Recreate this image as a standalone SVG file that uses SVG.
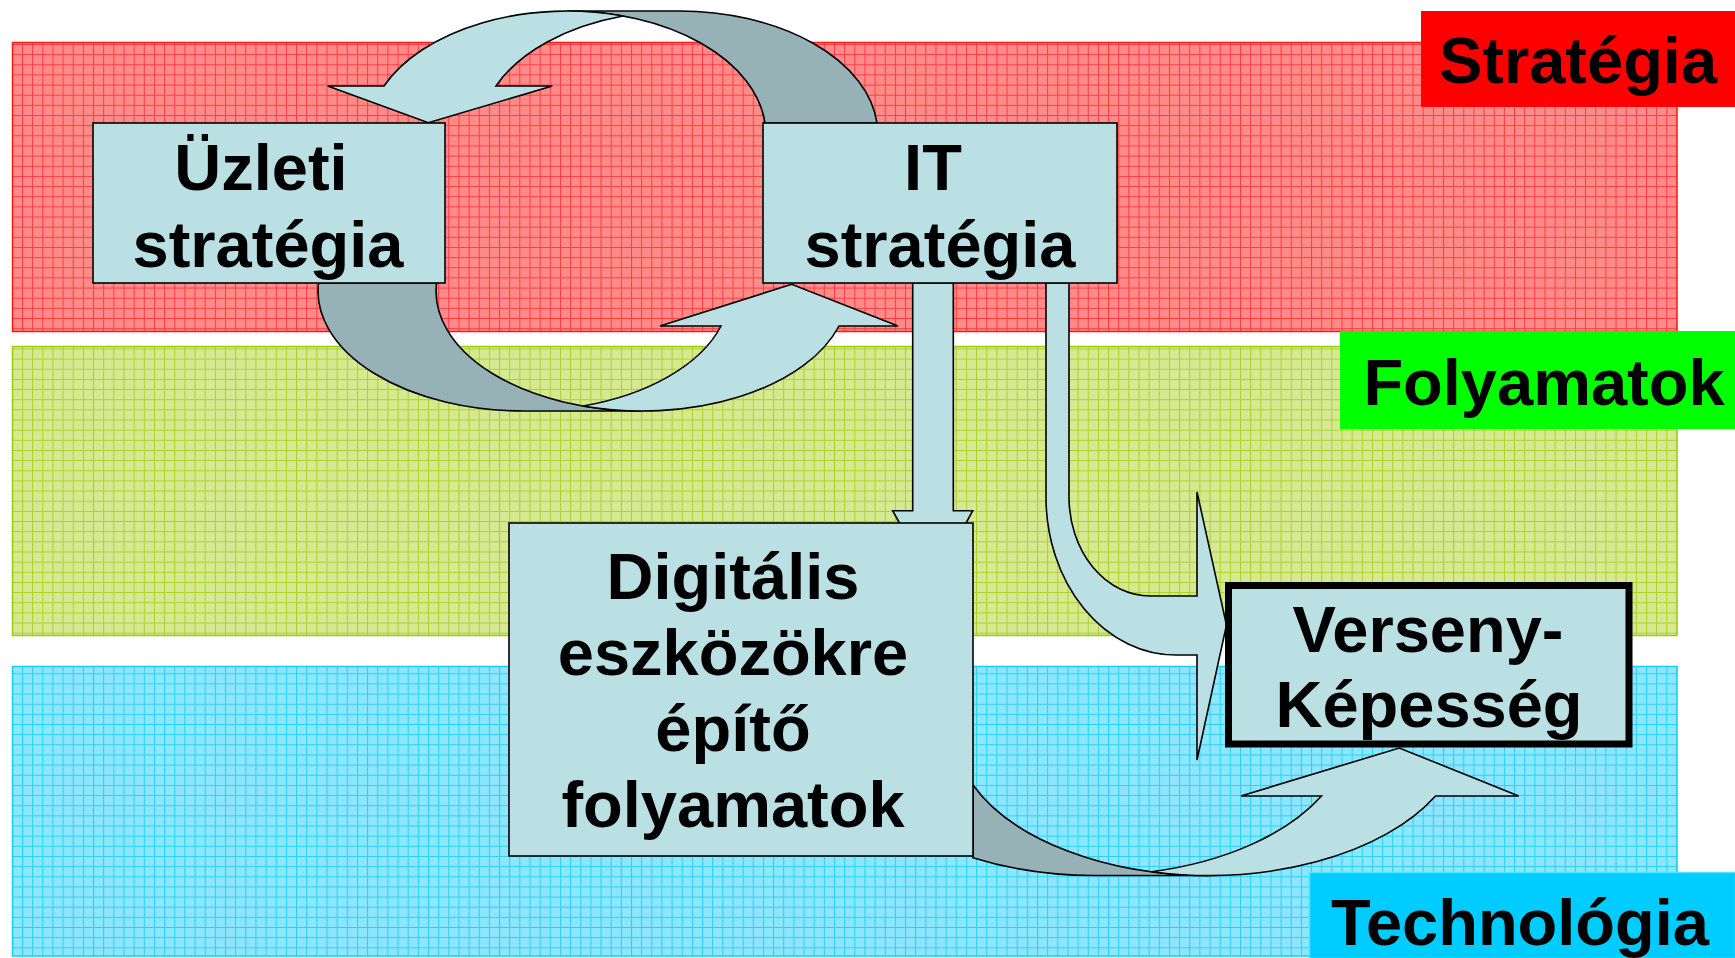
<svg xmlns="http://www.w3.org/2000/svg" width="1735" height="958" viewBox="0 0 1735 958">
<style>
.band{stroke-width:1.5}
.lbl{font-family:"Liberation Sans",Arial,sans-serif;font-weight:bold;font-size:65px;text-anchor:middle;fill:#000}
.box{fill:#BBE0E3;stroke:#000;stroke-width:1.6}
.front{fill:#BBE0E3;stroke:#000;stroke-width:1.6;stroke-linejoin:miter}
.back{fill:#96B2B6;stroke:#000;stroke-width:1.6}
</style>
<defs>
<pattern id="gR" width="10.15" height="10.15" patternUnits="userSpaceOnUse" x="1.7" y="3.4">
<rect width="10.15" height="10.15" fill="#FF8A8A"/>
<path d="M0 0.5H10.15M0.5 0V10.15" stroke="#FF3C3C" stroke-width="1"/>
</pattern>
<pattern id="gG" width="10.15" height="10.15" patternUnits="userSpaceOnUse" x="1.7" y="3.4">
<rect width="10.15" height="10.15" fill="#D6E992"/>
<path d="M0 0.5H10.15M0.5 0V10.15" stroke="#A9D22A" stroke-width="1"/>
</pattern>
<pattern id="gB" width="10.15" height="10.15" patternUnits="userSpaceOnUse" x="1.7" y="3.4">
<rect width="10.15" height="10.15" fill="#8CE6FF"/>
<path d="M0 0.5H10.15M0.5 0V10.15" stroke="#2ACFF2" stroke-width="1"/>
</pattern>
</defs>
<rect width="1735" height="958" fill="#fff"/>
<g id="bands">
<rect id="band-strategia" class="band" x="12.5" y="42.5" width="1664.5" height="289" fill="url(#gR)" stroke="#FF1A1A"/>
<rect id="band-folyamatok" class="band" x="12.5" y="346.5" width="1664.5" height="289" fill="url(#gG)" stroke="#9ACC10"/>
<rect id="band-technologia" class="band" x="12.5" y="666.5" width="1664.5" height="289.5" fill="url(#gB)" stroke="#18CCF5"/>
</g>
<g id="label-strategia">
<rect x="1421" y="11" width="314" height="96" fill="#FF0000"/>
<text class="lbl" x="1578" y="83">Stratégia</text>
</g>
<g id="label-folyamatok">
<rect x="1340" y="331" width="395" height="98" fill="#00FF00"/>
<text class="lbl" x="1544" y="405">Folyamatok</text>
</g>
<g id="label-technologia">
<rect x="1309.5" y="872.5" width="426" height="86" fill="#00CCFF" stroke="#4FE3FF" stroke-width="1.5"/>
<text class="lbl" x="1520" y="945">Technológia</text>
</g>
<g id="connectors">
<path class="back" d="M877,123 A199,123 0 0 0 679,11 L567,11 A199,123 0 0 1 765,123 Z"/>
<path class="front" d="M623,16 A199,123 0 0 0 384,86 L327.7,86 L428.3,122.7 L552.3,86 L496,86 A199,123 0 0 1 623,16 Z"/>
<path class="back" d="M318.5,283 A206,120 0 0 0 524,411 L642,411 A206,120 0 0 1 436.5,283 Z"/>
<path class="front" d="M583,406 A206,120 0 0 0 721,326 L660,326 L791.7,284.3 L898,326 L839,326 A206,120 0 0 1 583,406 Z"/>
<path class="front" d="M912.7,283 V510.7 H892.7 L933,584 L972.7,510.7 H953.3 V283 Z"/>
<path class="front" d="M1046,283 V497 A130,158 0 0 0 1176,655 H1197 V760 L1226.5,625 L1197,492 V596 H1150 A81,99 0 0 1 1069,497 V283 Z"/>
<path class="back" d="M973,857.7 A255,146.5 0 0 0 1094.7,875.5 L1208.7,875.5 A255,146.5 0 0 1 973,785 Z"/>
<path class="front" d="M1151.7,871.7 A255,146.5 0 0 0 1321.5,796 L1241,796 L1399.3,748 L1518.7,796 L1435.5,796 A255,146.5 0 0 1 1151.7,871.7 Z"/>
</g>
<g id="node-uzleti">
<rect class="box" x="93" y="123" width="352" height="160"/>
<text class="lbl" x="261" y="190">Üzleti</text>
<text class="lbl" x="268" y="267">stratégia</text>
</g>
<g id="node-it">
<rect class="box" x="763" y="123" width="354" height="160"/>
<text class="lbl" x="933" y="190">IT</text>
<text class="lbl" x="940" y="267">stratégia</text>
</g>
<g id="node-digitalis">
<rect class="box" x="509" y="523" width="464" height="333"/>
<text class="lbl" x="733" y="599">Digitális</text>
<text class="lbl" x="733" y="675">eszközökre</text>
<text class="lbl" x="733" y="751">építő</text>
<text class="lbl" x="733" y="827">folyamatok</text>
</g>
<g id="node-verseny">
<rect x="1228.5" y="585.5" width="400.5" height="158.5" fill="#BBE0E3" stroke="#000" stroke-width="7"/>
<text class="lbl" x="1428" y="652">Verseny-</text>
<text class="lbl" x="1429" y="727">Képesség</text>
</g>
</svg>
